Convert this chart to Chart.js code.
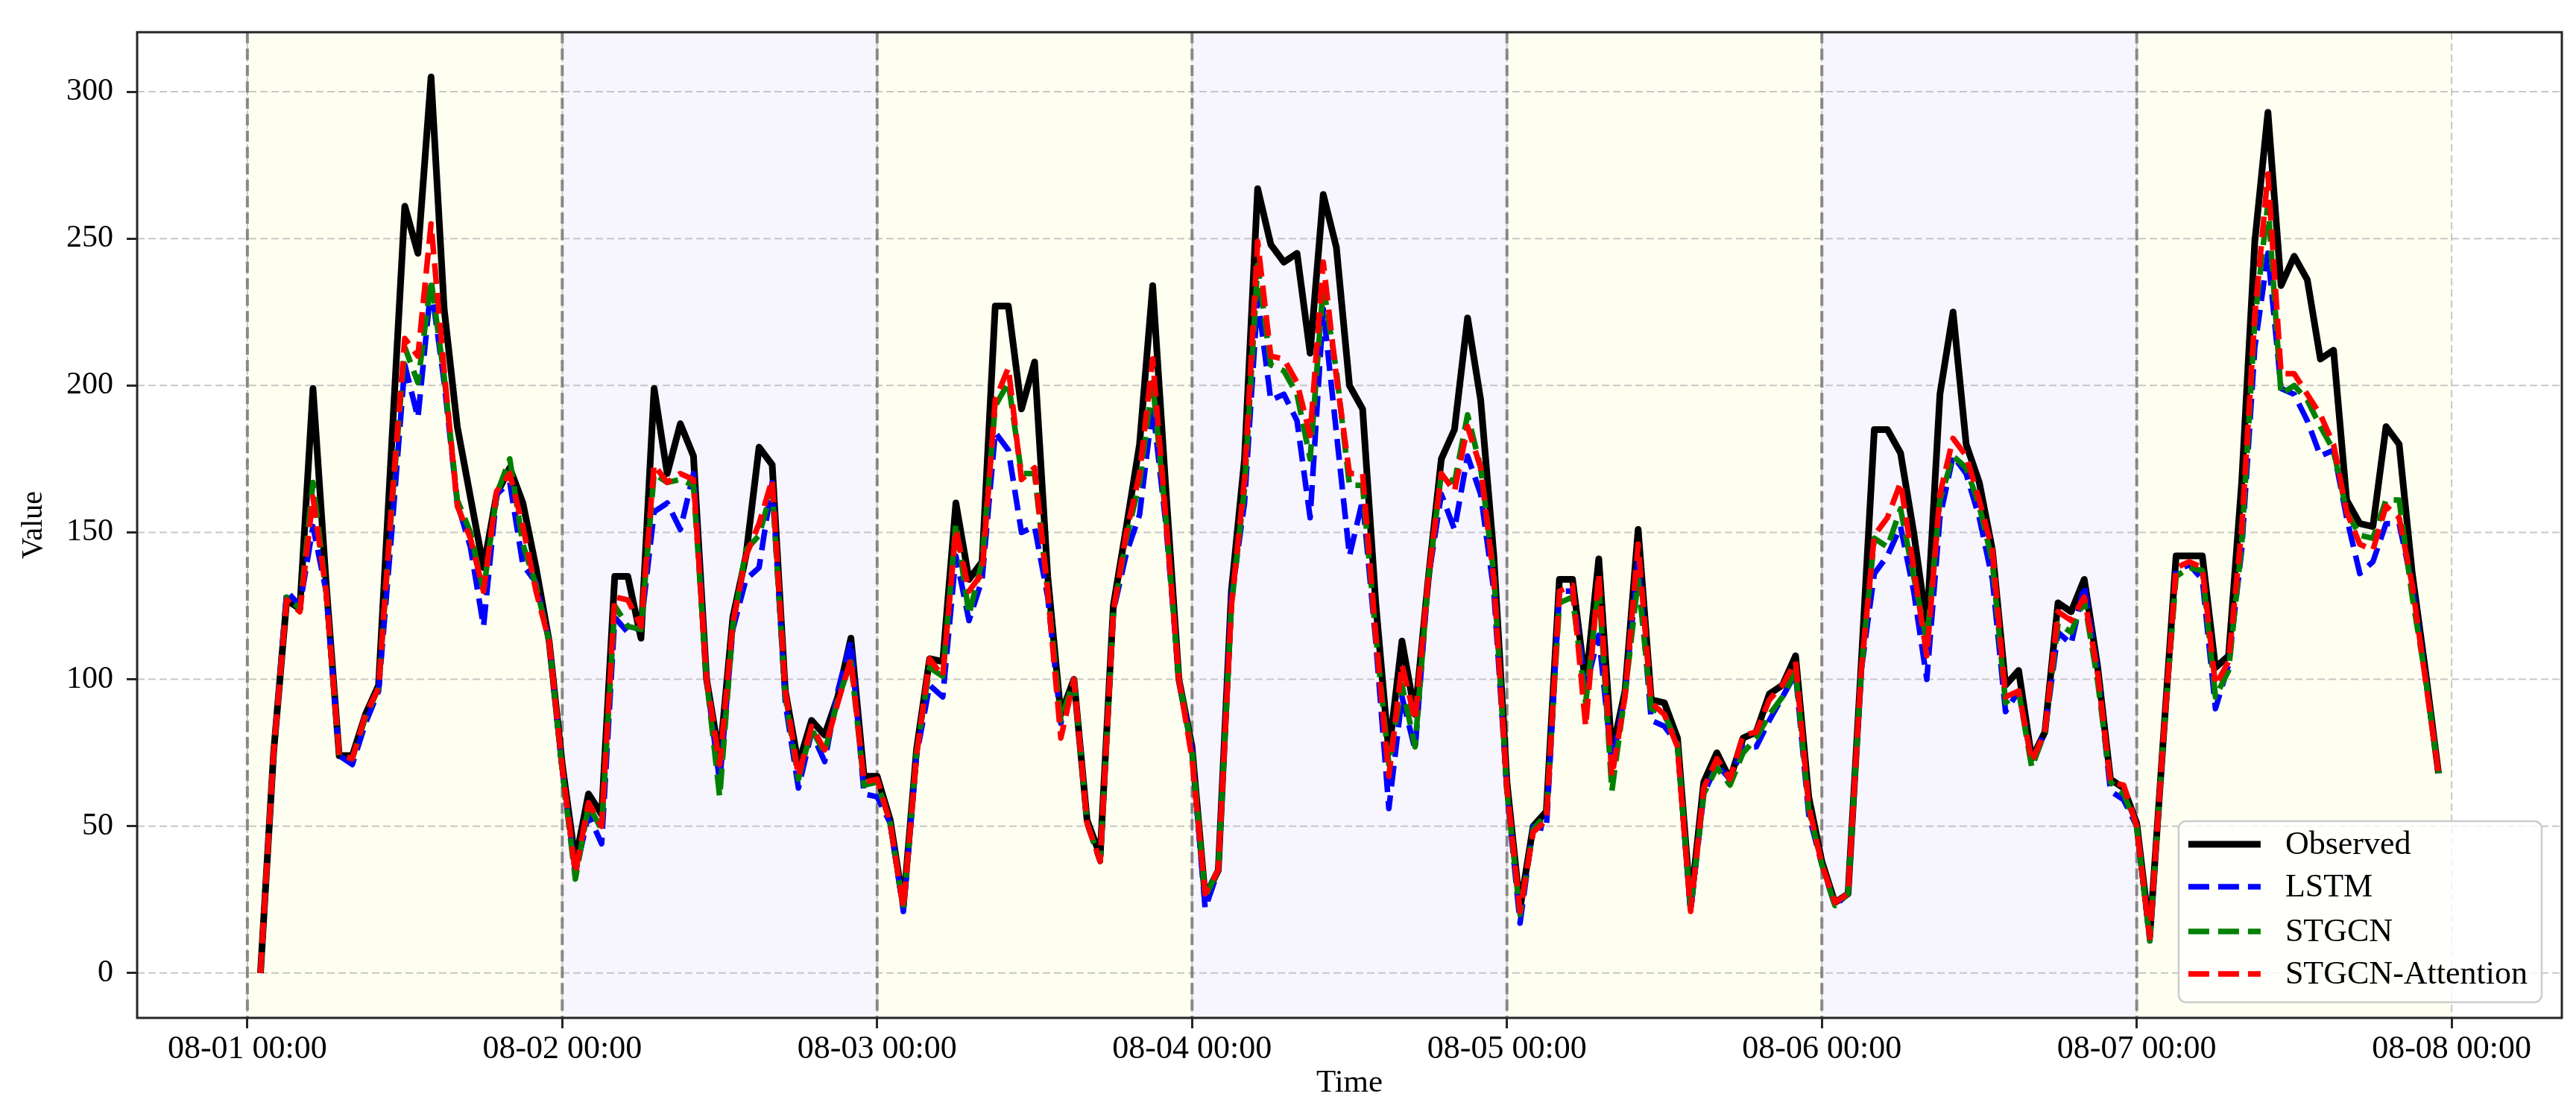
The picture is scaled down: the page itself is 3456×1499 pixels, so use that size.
<!DOCTYPE html>
<html>
<head>
<meta charset="utf-8">
<script src="https://cdn.jsdelivr.net/npm/chart.js@4.4.1/dist/chart.umd.min.js"></script>
<style>
html,body{margin:0;padding:0;background:#fff;}
canvas{display:block;}
</style>
</head>
<body>
<canvas id="c" width="3456" height="1499"></canvas>
<script>
// ---- data (hours after 08-01 00:00) ----
const hours = [
  1,2,3,4,5,6,7,8,9,10,11,12,13,14,15,16,17,18,19,20,21,22,23,24,
  25,26,27,28,29,30,31,32,33,34,35,36,37,38,39,40,41,42,43,44,45,46,47,48,
  49,50,51,52,53,54,55,56,57,58,59,60,61,62,63,64,65,66,67,68,69,70,71,72,
  73,74,75,76,77,78,79,80,81,82,83,84,85,86,87,88,89,90,91,92,93,94,95,96,
  97,98,99,100,101,102,103,104,105,106,107,108,109,110,111,112,113,114,115,116,117,118,119,120,
  121,122,123,124,125,126,127,128,129,130,131,132,133,134,135,136,137,138,139,140,141,142,143,144,
  145,146,147,148,149,150,151,152,153,154,155,156,157,158,159,160,161,162,163,164,165,166,167
];
const observed = [
  0,75,127,124,199,133,74,74,88,98,180,261,245,305,226,186,162,138,163,172,160,138,113,71,
  38,61,54,135,135,114,199,170,187,176,100,73,121,142,179,173,96,71,86,81,94,114,67,67,
  52,23,76,107,106,160,134,140,227,227,192,208,135,88,100,52,40,125,152,180,234,165,100,77,
  26,35,130,175,267,248,242,245,211,265,247,200,192,126,75,113,88,134,175,185,223,195,142,65,
  22,50,55,134,134,98,141,75,96,151,93,92,80,23,65,75,66,80,82,95,98,108,60,38,
  24,27,105,185,185,177,150,118,197,225,180,167,144,98,103,73,82,126,123,134,105,66,63,51,
  13,78,142,142,142,104,108,167,249,293,234,244,236,209,212,161,153,152,186,180,136,103,68
];
const lstm = [
  0,75,130,125,152,130,74,71,85,96,150,207,189,234,201,160,145,118,163,167,139,133,113,69,
  34,54,44,121,116,118,157,160,151,170,100,65,117,134,138,167,92,63,82,72,96,113,61,60,
  51,21,74,98,94,142,120,134,184,178,150,152,128,85,100,51,38,123,143,156,193,153,100,76,
  22,35,128,160,230,195,197,188,155,226,184,142,161,113,56,94,76,134,163,151,176,163,130,62,
  17,50,49,130,130,97,115,71,95,140,86,84,78,21,61,71,66,77,77,86,94,102,54,37,
  23,27,103,136,142,152,130,100,155,176,170,155,134,89,96,72,82,116,112,132,103,62,59,50,
  11,78,137,139,134,90,105,144,213,245,199,197,188,176,178,155,136,140,153,153,132,101,68
];
const stgcn = [
  0,75,128,124,167,130,74,73,87,97,158,213,201,236,203,161,150,130,163,175,146,132,113,69,
  32,57,49,125,118,117,170,167,168,166,100,60,118,144,149,165,94,66,83,75,93,106,64,65,
  51,22,75,104,101,153,122,140,193,201,170,170,130,86,100,51,38,123,148,167,201,155,100,76,
  26,35,125,165,241,207,205,197,175,234,205,166,166,115,71,98,77,134,170,167,190,172,136,62,
  20,49,54,126,128,92,132,62,95,134,90,88,78,22,61,70,64,75,80,88,94,103,56,37,
  23,27,103,148,145,158,135,113,161,176,172,159,140,92,96,70,82,119,116,127,100,65,61,50,
  11,78,135,138,137,94,103,146,222,262,197,200,195,186,178,157,149,148,161,161,128,101,68
];
const stgcnAttention = [
  0,75,127,123,162,130,74,73,88,97,160,216,210,255,205,159,148,130,164,170,152,130,113,70,
  34,58,50,128,127,118,173,167,170,168,100,71,119,142,153,168,96,67,84,76,92,107,65,66,
  51,22,74,107,101,151,130,136,195,206,168,172,130,80,100,51,38,123,150,170,209,155,100,73,
  27,35,125,168,249,210,209,201,183,242,203,170,170,115,67,105,86,134,170,164,186,172,134,63,
  21,48,52,130,132,84,136,67,94,146,92,88,77,21,63,73,66,81,82,93,98,106,57,37,
  24,27,103,149,155,167,138,108,163,182,176,161,144,94,96,72,82,123,120,128,103,65,64,50,
  12,78,138,140,138,98,106,151,224,272,204,204,197,190,180,157,146,144,159,155,132,100,68
];
const tickHours = [0,24,48,72,96,120,144,168];
const tickLabels = ['08-01 00:00','08-02 00:00','08-03 00:00','08-04 00:00','08-05 00:00','08-06 00:00','08-07 00:00','08-08 00:00'];
const yTicks = [0,50,100,150,200,250,300];
const seriesNames = ['Observed','LSTM','STGCN','STGCN-Attention'];

// ---- styling ----
const FONT = 'Liberation Serif';
const pts = arr => arr.map((v, i) => ({x: hours[i], y: v}));
const DASH = [28, 12];

const decor = {
  id: 'decor',
  beforeDraw(chart) {
    const {ctx, chartArea: a, scales: {x, y}} = chart;
    ctx.save();
    ctx.beginPath();
    ctx.rect(a.left, a.top, a.right - a.left, a.bottom - a.top);
    ctx.clip();
    for (let i = 0; i < tickHours.length - 1; i++) {
      const x0 = x.getPixelForValue(tickHours[i]);
      const x1 = x.getPixelForValue(tickHours[i + 1]);
      ctx.fillStyle = i % 2 === 0 ? '#fefef1' : '#f7f5fd';
      ctx.fillRect(x0, a.top, x1 - x0, a.bottom - a.top);
    }
    ctx.strokeStyle = 'rgba(185,185,185,0.8)';
    ctx.lineWidth = 2;
    ctx.setLineDash([10, 5]);
    for (const v of yTicks) {
      const py = y.getPixelForValue(v);
      ctx.beginPath(); ctx.moveTo(a.left, py); ctx.lineTo(a.right, py); ctx.stroke();
    }
    for (const v of tickHours) {
      const px = x.getPixelForValue(v);
      ctx.beginPath(); ctx.moveTo(px, a.top); ctx.lineTo(px, a.bottom); ctx.stroke();
    }
    ctx.restore();
  },
  beforeDatasetsDraw(chart) {
    const {ctx, chartArea: a, scales: {x}} = chart;
    ctx.save();
    ctx.strokeStyle = 'rgba(120,120,120,0.85)';
    ctx.lineWidth = 4;
    ctx.setLineDash([15, 7]);
    for (let i = 0; i < tickHours.length - 1; i++) {
      const px = x.getPixelForValue(tickHours[i]);
      ctx.beginPath(); ctx.moveTo(px, a.top); ctx.lineTo(px, a.bottom); ctx.stroke();
    }
    ctx.restore();
  },
  afterDatasetsDraw(chart) {
    const {ctx, chartArea: a} = chart;
    ctx.save();
    ctx.strokeStyle = '#262626';
    ctx.lineWidth = 3;
    ctx.setLineDash([]);
    ctx.strokeRect(a.left, a.top, a.right - a.left, a.bottom - a.top);
    // legend
    const fs = 44;
    ctx.font = fs + 'px "' + FONT + '"';
    const textW = Math.max(...chart.data.datasets.map(d => ctx.measureText(d.label).width));
    const padL = 13, handle = 97, gap = 33, padR = 19;
    const w = padL + handle + gap + textW + padR;
    const h = 243;
    const right = a.right - 27, bottom = a.bottom - 21;
    const left = right - w, top = bottom - h;
    ctx.beginPath();
    ctx.roundRect(left, top, w, h, 10);
    ctx.fillStyle = 'rgba(255,255,255,0.8)';
    ctx.fill();
    ctx.strokeStyle = 'rgba(204,204,204,1)';
    ctx.lineWidth = 2.5;
    ctx.stroke();
    const rows = [31, 88, 148, 205];
    chart.data.datasets.forEach((d, i) => {
      const yy = top + rows[i];
      ctx.save();
      ctx.strokeStyle = d.borderColor;
      ctx.lineWidth = d.borderWidth;
      ctx.setLineDash(d.borderDash || []);
      ctx.lineCap = 'butt';
      ctx.beginPath();
      ctx.moveTo(left + padL, yy);
      ctx.lineTo(left + padL + handle, yy);
      ctx.stroke();
      ctx.restore();
      ctx.fillStyle = '#000';
      ctx.textBaseline = 'middle';
      ctx.textAlign = 'left';
      ctx.fillText(d.label, left + padL + handle + gap, yy + 1);
    });
    ctx.restore();
  }
};

new Chart(document.getElementById('c'), {
  type: 'line',
  data: {
    datasets: [
      {label: seriesNames[0], data: pts(observed), borderColor: '#000000', borderWidth: 9, borderDash: [], order: 4},
      {label: seriesNames[1], data: pts(lstm), borderColor: '#0000ff', borderWidth: 7.5, borderDash: DASH, order: 3},
      {label: seriesNames[2], data: pts(stgcn), borderColor: '#008000', borderWidth: 7.5, borderDash: DASH, order: 2},
      {label: seriesNames[3], data: pts(stgcnAttention), borderColor: '#ff0000', borderWidth: 7.5, borderDash: DASH, order: 1}
    ]
  },
  options: {
    responsive: false,
    animation: false,
    devicePixelRatio: 1,
    layout: {padding: {top: 32, right: 19, left: 0, bottom: 0}},
    elements: {
      point: {radius: 0, hoverRadius: 0},
      line: {tension: 0, borderJoinStyle: 'round', fill: false}
    },
    plugins: {legend: {display: false}, tooltip: {enabled: false}},
    scales: {
      x: {
        type: 'linear',
        min: -8.4,
        max: 176.4,
        afterBuildTicks: s => { s.ticks = tickHours.map(v => ({value: v})); },
        afterFit: s => { s.height = 133; },
        grid: {drawOnChartArea: false, drawTicks: true, tickLength: 14, tickWidth: 3, tickColor: '#262626', color: '#262626', lineWidth: 3},
        border: {display: false},
        ticks: {
          autoSkip: false, maxRotation: 0, minRotation: 0, padding: 2,
          color: '#000', font: {family: FONT, size: 44},
          callback: (v) => tickLabels[tickHours.indexOf(v)]
        },
        title: {display: true, text: 'Time', color: '#000', font: {family: FONT, size: 43}, padding: {top: 0, bottom: 19}}
      },
      y: {
        type: 'linear',
        min: -15.25,
        max: 320.25,
        afterBuildTicks: s => { s.ticks = yTicks.map(v => ({value: v})); },
        afterFit: s => { s.width = 184; },
        grid: {drawOnChartArea: false, drawTicks: true, tickLength: 14, tickWidth: 3, tickColor: '#262626', color: '#262626', lineWidth: 3},
        border: {display: false},
        ticks: {padding: 18, color: '#000', font: {family: FONT, size: 42}},
        title: {display: true, text: 'Value', color: '#000', font: {family: FONT, size: 40}, padding: {top: 21, bottom: 0}}
      }
    }
  },
  plugins: [decor]
});
</script>
</body>
</html>
